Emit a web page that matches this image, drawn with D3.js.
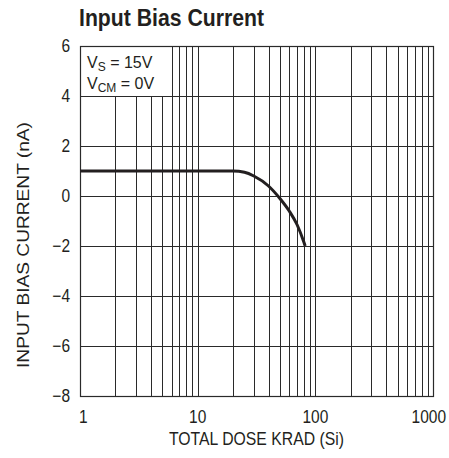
<!DOCTYPE html>
<html>
<head>
<meta charset="utf-8">
<script src="https://cdn.jsdelivr.net/npm/d3@7"></script>
<style>
  body { margin: 0; background: #fff; }
  text { font-family: "Liberation Sans", Arial, sans-serif; fill: #231f20; }
  .grid-line { stroke: #2a2a2a; stroke-width: 1; shape-rendering: crispEdges; }
</style>
</head>
<body>
<div id="wrapper"></div>
<script>
// data
const doseValues = [1, 20, 25, 30, 40, 50, 60, 70, 80, 82];
const biasValues = [1, 1, 0.95, 0.8, 0.4, -0.1, -0.6, -1.15, -1.85, -2];
const yTicks = [-8, -6, -4, -2, 0, 2, 4, 6];
const xTicks = [1, 10, 100, 1000];
const yTickLabels = ["\u22128", "\u22126", "\u22124", "\u22122", "0", "2", "4", "6"];

const dimensions = {
  width: 449,
  height: 458,
  margin: { top: 46, right: 16, bottom: 62, left: 80 },
};
dimensions.boundedWidth = dimensions.width - dimensions.margin.left - dimensions.margin.right;
dimensions.boundedHeight = dimensions.height - dimensions.margin.top - dimensions.margin.bottom;

// squeeze regular text to look like a condensed face
const condense = (sel, k = 0.86) => sel.each(function () {
  const w = this.getComputedTextLength();
  d3.select(this)
    .attr("textLength", w * k)
    .attr("lengthAdjust", "spacingAndGlyphs");
});

const svg = d3.select("#wrapper")
  .append("svg")
  .attr("width", dimensions.width)
  .attr("height", dimensions.height);

const bounds = svg.append("g")
  .attr("transform", `translate(${dimensions.margin.left},${dimensions.margin.top})`);

const xScale = d3.scaleLog()
  .domain([1, 1000])
  .range([0, dimensions.boundedWidth]);

const yScale = d3.scaleLinear()
  .domain([-8, 6])
  .range([dimensions.boundedHeight, 0]);

// grid: minor decades + horizontal every 2
const xGrid = [];
[1, 10, 100].forEach(dec => d3.range(1, 10).forEach(m => xGrid.push(dec * m)));
xGrid.push(1000);

bounds.selectAll(".v-grid")
  .data(xGrid)
  .join("line")
  .attr("class", "grid-line")
  .attr("x1", d => Math.round(xScale(d)) + 0.5)
  .attr("x2", d => Math.round(xScale(d)) + 0.5)
  .attr("y1", 0)
  .attr("y2", dimensions.boundedHeight);

bounds.selectAll(".h-grid")
  .data(yTicks)
  .join("line")
  .attr("class", "grid-line")
  .attr("x1", 0)
  .attr("x2", dimensions.boundedWidth)
  .attr("y1", d => Math.round(yScale(d)) + 0.5)
  .attr("y2", d => Math.round(yScale(d)) + 0.5);

// legend box hides the grid behind it
bounds.append("rect")
  .attr("x", 1)
  .attr("y", 1)
  .attr("width", 90)
  .attr("height", 49)
  .attr("fill", "#fff");

const legend = bounds.append("text")
  .attr("x", 7)
  .attr("font-size", 16);
legend.append("tspan").attr("x", 7).attr("y", 22).text("V");
legend.append("tspan").attr("font-size", 12).attr("dy", 3).text("S");
legend.append("tspan").attr("dy", -3).text(" = 15V");
legend.append("tspan").attr("x", 7).attr("y", 43).text("V");
legend.append("tspan").attr("font-size", 12).attr("dy", 3).text("CM");
legend.append("tspan").attr("dy", -3).text(" = 0V");

// border
bounds.append("rect")
  .attr("x", 0.5)
  .attr("y", 0.5)
  .attr("width", dimensions.boundedWidth)
  .attr("height", dimensions.boundedHeight)
  .attr("fill", "none")
  .attr("stroke", "#2a2a2a")
  .attr("stroke-width", 1.2);

// curve
const lineGenerator = d3.line()
  .x(d => xScale(d))
  .y((d, i) => yScale(biasValues[i]))
  .curve(d3.curveMonotoneX);

bounds.append("path")
  .attr("d", lineGenerator(doseValues))
  .attr("fill", "none")
  .attr("stroke", "#231f20")
  .attr("stroke-width", 3);

// tick labels
bounds.selectAll(".y-label")
  .data(yTicks)
  .join("text")
  .attr("x", -10)
  .attr("y", d => yScale(d))
  .attr("dy", "0.36em")
  .attr("text-anchor", "end")
  .attr("font-size", 18)
  .text((d, i) => yTickLabels[i])
  .call(condense);

bounds.selectAll(".x-label")
  .data(xTicks)
  .join("text")
  .attr("x", (d, i) => xScale(d) + (i === 0 ? -1 : i === xTicks.length - 1 ? 13 : 0))
  .attr("y", dimensions.boundedHeight + 27)
  .attr("text-anchor", (d, i) => i === 0 ? "start" : (i === xTicks.length - 1 ? "end" : "middle"))
  .attr("font-size", 18)
  .text(d => d)
  .call(condense);

// axis titles
svg.append("text")
  .attr("x", dimensions.margin.left + dimensions.boundedWidth / 2)
  .attr("y", 445)
  .attr("text-anchor", "middle")
  .attr("font-size", 18)
  .text("TOTAL DOSE KRAD (Si)")
  .attr("textLength", 175)
  .attr("lengthAdjust", "spacingAndGlyphs");

svg.append("text")
  .attr("transform", "translate(29,245) rotate(-90)")
  .attr("text-anchor", "middle")
  .attr("font-size", 17)
  .text("INPUT BIAS CURRENT (nA)")
  .attr("textLength", 246)
  .attr("lengthAdjust", "spacingAndGlyphs");

svg.append("text")
  .attr("x", 79)
  .attr("y", 26)
  .attr("font-size", 24)
  .attr("font-weight", "bold")
  .text("Input Bias Current")
  .attr("textLength", 185)
  .attr("lengthAdjust", "spacingAndGlyphs");
</script>
</body>
</html>
